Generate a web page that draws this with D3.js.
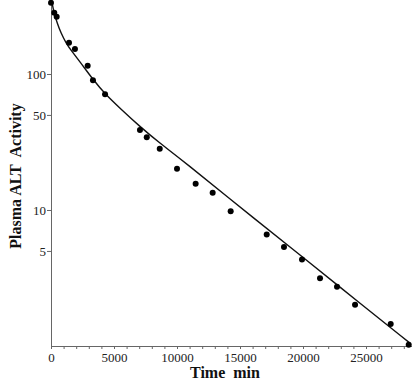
<!DOCTYPE html>
<html>
<head>
<meta charset="utf-8">
<script src="https://cdn.jsdelivr.net/npm/d3@7"></script>
<style>
  body { margin: 0; background: #fff; }
  svg { display: block; }
  .tick text { font-family: "Liberation Serif", "Times New Roman", serif; font-size: 13px; fill: #222; }
  .label { font-family: "Liberation Serif", "Times New Roman", serif; font-weight: bold; font-size: 16px; fill: #111; white-space: pre; }
</style>
</head>
<body>
<div id="app"></div>
<script>
// measured points
const timeMin = [0, 260, 450, 1430, 1900, 2910, 3330, 4290, 7060, 7600, 8630, 10000, 11480,
    12830, 14260, 17120, 18490, 19920, 21350, 22700, 24130, 26960, 28390];
const altActivity = [334, 282, 264, 170, 153, 115, 90, 71, 38.7, 34.3, 28.2, 20.1, 15.6,
    13.4, 9.8, 6.6, 5.35, 4.32, 3.15, 2.73, 2.01, 1.45, 1.02];

// fitted curve
const fitTime = [120, 240, 500, 790, 1190, 1670, 2300, 3360, 4290, 5480, 7060, 8650, 10240,
    16590, 20000, 24520, 28490];
const fitActivity = [322, 281, 236, 200, 169, 146, 123, 90.3, 71.3, 55.9, 41.0, 30.9, 24.0,
    7.98, 4.49, 2.06, 1.05];

const xTickValues = [0, 5000, 10000, 15000, 20000, 25000];
const xMinorTicks = d3.range(0, 29000, 1000);
const yTickValues = [5, 10, 50, 100];

const width = 415, height = 382;
const left = 51, bottom = 346;

const svg = d3.select("#app")
  .append("svg")
    .attr("width", width)
    .attr("height", height);

const x = d3.scaleLinear()
  .domain([0, 28600])
  .range([left, left + 28600 * 0.0126]);

const y = d3.scaleLog()
  .domain([1, 350])
  .range([bottom, 0]);

// minor x ticks
svg.append("g")
  .attr("transform", `translate(0,${bottom})`)
  .call(d3.axisBottom(x).tickValues(xMinorTicks).tickFormat("").tickSizeInner(3).tickSizeOuter(0))
  .call(g => g.selectAll("line, path").attr("stroke", "#666"));

// x axis
svg.append("g")
  .attr("transform", `translate(0,${bottom})`)
  .call(d3.axisBottom(x).tickValues(xTickValues).tickFormat(d3.format("d")).tickSizeInner(3).tickSizeOuter(0).tickPadding(4))
  .call(g => g.selectAll("line, path").attr("stroke", "#666"));

// y axis
svg.append("g")
  .attr("transform", `translate(${left},0)`)
  .call(d3.axisLeft(y).tickValues(yTickValues).tickFormat(d3.format("d")).tickSizeInner(4).tickSizeOuter(0).tickPadding(1))
  .call(g => g.selectAll("line, path").attr("stroke", "#666"));

// fitted line
const line = d3.line()
  .x((d, i) => x(fitTime[i]))
  .y((d, i) => y(fitActivity[i]))
  .curve(d3.curveBasis);

svg.append("path")
  .datum(fitTime)
  .attr("fill", "none")
  .attr("stroke", "#111")
  .attr("stroke-width", 1.4)
  .attr("d", line);

// points
svg.selectAll("circle.pt")
  .data(timeMin)
  .join("circle")
    .attr("class", "pt")
    .attr("cx", d => x(d))
    .attr("cy", (d, i) => y(altActivity[i]))
    .attr("r", 3)
    .attr("fill", "#000");

svg.append("text")
  .attr("class", "label")
  .attr("text-anchor", "middle")
  .attr("x", 225)
  .attr("y", 378)
  .text("Time  min");

svg.append("text")
  .attr("class", "label")
  .attr("text-anchor", "middle")
  .attr("transform", "translate(21,176) rotate(-90)")
  .text("Plasma ALT  Activity");
</script>
</body>
</html>
